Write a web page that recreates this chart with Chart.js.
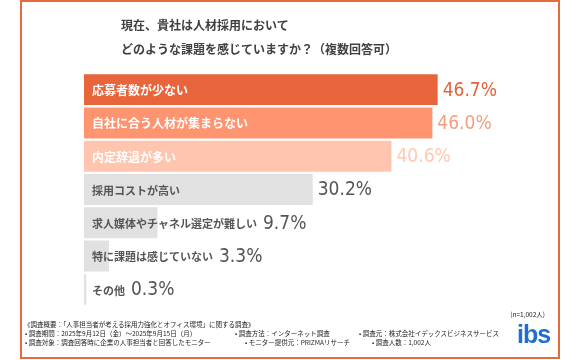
<!DOCTYPE html>
<html lang="ja">
<head>
<meta charset="utf-8">
<script src="https://cdn.jsdelivr.net/npm/chart.js@4/dist/chart.umd.min.js"></script>
<style>
  html, body { margin: 0; padding: 0; background: #fff; }
  body { width: 580px; height: 360px; position: relative; overflow: hidden;
         font-family: "Noto Sans CJK JP", "Noto Sans", sans-serif; }
  #frame { position: absolute; left: 20px; top: 0; width: 540px; height: 359px;
           border: 2px solid #E9693F; box-sizing: border-box; }
  #chart { position: absolute; left: 0; top: 0; }
  .title { position: absolute; left: 121px; top: 13px; font-size: 12px; line-height: 24px;
           font-weight: 700; color: #404040; white-space: nowrap; }
  .foot { position: absolute; font-size: 6.5px; line-height: 9px; color: #222;
          white-space: nowrap; }
  #sample { right: 35px; left: auto; top: 310px; }
  #logo { position: absolute; left: 517px; top: 320px; font-family: "Liberation Sans", Arial, sans-serif;
          font-weight: 700; font-size: 25px; letter-spacing: -1px; color: #1f6fd3; }
</style>
</head>
<body>
<div id="frame"></div>
<canvas id="chart" width="580" height="360"></canvas>
<div class="title">現在、貴社は人材採用において<br>どのような課題を感じていますか？（複数回答可）</div>

<div class="foot" id="sample">(n=1,002人)</div>
<div class="foot" style="left:24px; top:320px;">《調査概要：「人事担当者が考える採用力強化とオフィス環境」に関する調査》</div>
<div class="foot" style="left:25px; top:329px;">• 調査期間：2025年9月12日（金）～2025年9月15日（月）</div>
<div class="foot" style="left:235px; top:329px;">• 調査方法：インターネット調査</div>
<div class="foot" style="left:359px; top:329px;">• 調査元：株式会社イデックスビジネスサービス</div>
<div class="foot" style="left:25px; top:338px;">• 調査対象：調査回答時に企業の人事担当者と回答したモニター</div>
<div class="foot" style="left:245px; top:338px;">• モニター提供元：PRIZMAリサーチ</div>
<div class="foot" style="left:372px; top:338px;">• 調査人数：1,002人</div>
<div id="logo">ibs</div>

<script>
const categories = [
  '応募者数が少ない',
  '自社に合う人材が集まらない',
  '内定辞退が多い',
  '採用コストが高い',
  '求人媒体やチャネル選定が難しい',
  '特に課題は感じていない',
  'その他'
];
const values = [46.7, 46.0, 40.6, 30.2, 9.7, 3.3, 0.3];

// colours for each bar, its inner label and its value
const barColors = ['#E8643A', '#FF9570', '#FFC5AF', '#E1E1E1', '#E1E1E1', '#E1E1E1', '#E1E1E1'];
const labelColors = ['#fff', '#fff', '#fff', '#555', '#555', '#555', '#555'];
const valueColors = ['#E2643C', '#F59E7F', '#FFC8B3', '#555', '#555', '#555', '#555'];

const valueFont = '19px "DejaVu Sans Condensed", "Liberation Sans Narrow", sans-serif';
const jpFont = '"Noto Sans CJK JP", sans-serif';

// draws the category name inside the bar and the value after it
const barLabels = {
  id: 'barLabels',
  afterDatasetsDraw(chart) {
    const ctx = chart.ctx;
    const meta = chart.getDatasetMeta(0);
    ctx.save();
    ctx.textBaseline = 'middle';
    ctx.textAlign = 'left';
    meta.data.forEach((bar, i) => {
      const left = bar.base + 8;
      ctx.font = (i < 3 ? 'bold 12px ' : 'bold 11px ') + jpFont;
      ctx.fillStyle = labelColors[i];
      ctx.fillText(categories[i], left, bar.y + 1);
      const labelEnd = left + ctx.measureText(categories[i]).width;

      let vx = bar.x + 5;
      if (labelEnd + 6 > vx) vx = labelEnd + 6;
      ctx.font = valueFont;
      ctx.fillStyle = valueColors[i];
      ctx.fillText(values[i].toFixed(1) + '%', vx, bar.y + 1);
    });
    ctx.restore();
  }
};

const ctx = document.getElementById('chart').getContext('2d');
new Chart(ctx, {
  type: 'bar',
  data: {
    labels: categories,
    datasets: [{
      data: values,
      backgroundColor: barColors,
      borderWidth: 0,
      barPercentage: 0.93,
      categoryPercentage: 1
    }]
  },
  options: {
    indexAxis: 'y',
    responsive: false,
    animation: false,
    layout: { padding: { left: 84, right: 41.6, top: 73, bottom: 54 } },
    scales: {
      x: { display: false, min: 0, max: 60 },
      y: { display: false }
    },
    plugins: { legend: { display: false }, tooltip: { enabled: false } }
  },
  plugins: [barLabels]
});
</script>
</body>
</html>
